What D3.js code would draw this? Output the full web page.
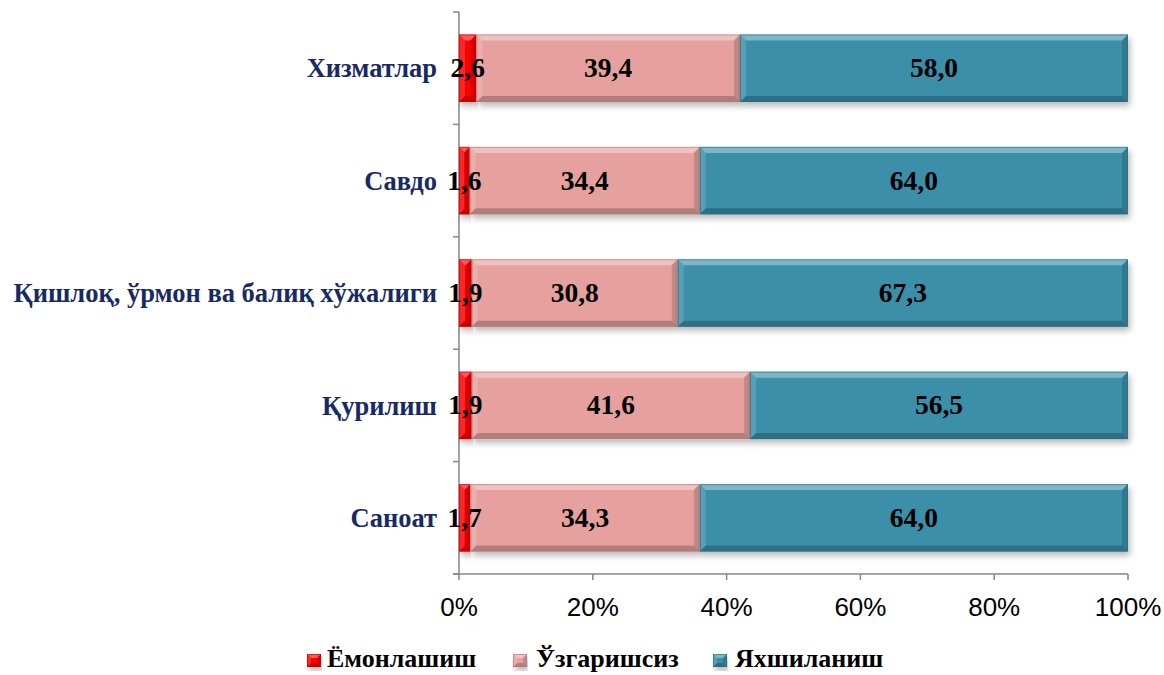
<!DOCTYPE html>
<html><head><meta charset="utf-8">
<script src="https://cdn.jsdelivr.net/npm/d3@7"></script>
<style>body{margin:0;background:#fff}svg{display:block}</style>
</head><body>
<svg id="c" width="1164" height="675"></svg>
<script>
const categories = ["Хизматлар", "Савдо", "Қишлоқ, ўрмон ва балиқ хўжалиги", "Қурилиш", "Саноат"];
const seriesNames = ["Ёмонлашиш", "Ўзгаришсиз", "Яхшиланиш"];
const worse = [2.6, 1.6, 1.9, 1.9, 1.7];
const same = [39.4, 34.4, 30.8, 41.6, 34.3];
const better = [58.0, 64.0, 67.3, 56.5, 64.0];
const seriesColors = ["#ff0000", "#e6a19f", "#3a8fa8"];
const xTicks = [0, 20, 40, 60, 80, 100];

const svg = d3.select("#c");
const x = d3.scaleLinear().domain([0, 100]).range([459, 1128]);
const y = d3.scaleBand().domain(categories).range([12, 574]).paddingInner(0.4).paddingOuter(0.2);
const yOuter = d3.scaleBand().domain(categories).range([12, 574]);

const defs = svg.append("defs");
const f = defs.append("filter").attr("id", "sh").attr("x", "-5%").attr("y", "-20%").attr("width", "110%").attr("height", "150%");
f.append("feDropShadow").attr("dx", 2).attr("dy", 4).attr("stdDeviation", 3).attr("flood-color", "#000").attr("flood-opacity", 0.28);

// axes
const ax = svg.append("g").attr("stroke", "#868686").attr("stroke-width", 1.5).attr("fill", "none");
ax.append("line").attr("x1", x(0)).attr("x2", x(0)).attr("y1", 12).attr("y2", 574);
ax.append("line").attr("x1", x(0) - 6).attr("x2", x(100)).attr("y1", 574).attr("y2", 574);
const bounds = categories.map(c => yOuter(c)).concat([574]);
bounds.forEach(b => ax.append("line").attr("x1", x(0) - 6).attr("x2", x(0)).attr("y1", b).attr("y2", b));
xTicks.forEach(t => ax.append("line").attr("x1", x(t)).attr("x2", x(t)).attr("y1", 574).attr("y2", 580));

svg.append("g").selectAll("text").data(xTicks).join("text")
  .attr("x", d => x(d)).attr("y", 616).attr("text-anchor", "middle")
  .attr("font-family", "Liberation Sans, Arial, sans-serif").attr("font-size", 26).attr("fill", "#000")
  .text(d => d + "%");

function bevel(g, x0, y0, w, h, color, b) {
  const gg = g.append("g");
  gg.append("rect").attr("x", x0).attr("y", y0).attr("width", w).attr("height", h).attr("fill", color).attr("filter", "url(#sh)");
  const bb = Math.min(b, w / 2, h / 2);
  const poly = (pts, fill, op) => gg.append("polygon").attr("points", pts.map(p => p.join(",")).join(" ")).attr("fill", fill).attr("fill-opacity", op);
  poly([[x0, y0], [x0 + w, y0], [x0 + w - bb, y0 + bb], [x0 + bb, y0 + bb]], "#fff", 0.35);
  poly([[x0, y0], [x0 + bb, y0 + bb], [x0 + bb, y0 + h - bb], [x0, y0 + h]], "#fff", 0.15);
  poly([[x0, y0 + h], [x0 + bb, y0 + h - bb], [x0 + w - bb, y0 + h - bb], [x0 + w, y0 + h]], "#000", 0.22);
  poly([[x0 + w, y0], [x0 + w, y0 + h], [x0 + w - bb, y0 + h - bb], [x0 + w - bb, y0 + bb]], "#000", 0.15);
  gg.append("rect").attr("x", x0 + 0.5).attr("y", y0 + 0.5).attr("width", Math.max(0, w - 1)).attr("height", h - 1)
    .attr("fill", "none").attr("stroke", d3.color(color).darker(0.8)).attr("stroke-width", 1).attr("stroke-opacity", 0.6);
}

const seriesData = [worse, same, better];
const barsG = svg.append("g");
const labelsG = svg.append("g");
categories.forEach((c, i) => {
  let acc = 0;
  seriesData.forEach((s, k) => {
    const v = s[i];
    const x0 = x(acc), x1 = x(acc + v);
    bevel(barsG, x0, y(c), x1 - x0, y.bandwidth(), seriesColors[k], 6);
    labelsG.append("text").attr("x", (x0 + x1) / 2).attr("y", y(c) + y.bandwidth() / 2)
      .attr("dy", "0.33em").attr("text-anchor", "middle")
      .attr("font-family", "Liberation Serif, Times New Roman, serif").attr("font-weight", "bold")
      .attr("font-size", 27.5).attr("fill", "#000")
      .text(v.toFixed(1).replace(".", ","));
    acc += v;
  });
});

svg.append("g").selectAll("text").data(categories).join("text")
  .attr("x", 437).attr("y", d => yOuter(d) + yOuter.bandwidth() / 2).attr("dy", "0.35em")
  .attr("text-anchor", "end")
  .attr("font-family", "Liberation Serif, Times New Roman, serif").attr("font-weight", "bold")
  .attr("font-size", 26.5).attr("fill", "#172a66")
  .text(d => d);

// legend
const legMarkX = [307, 513, 713];
const legTextX = [327, 536, 735];
const lg = svg.append("g");
seriesNames.forEach((n, k) => {
  bevel(lg, legMarkX[k], 654, 14, 13, seriesColors[k], 4);
  lg.append("text").attr("x", legTextX[k]).attr("y", 667)
    .attr("font-family", "Liberation Serif, Times New Roman, serif").attr("font-weight", "bold")
    .attr("font-size", 26).attr("fill", "#000").text(n);
});
</script>
</body></html>
